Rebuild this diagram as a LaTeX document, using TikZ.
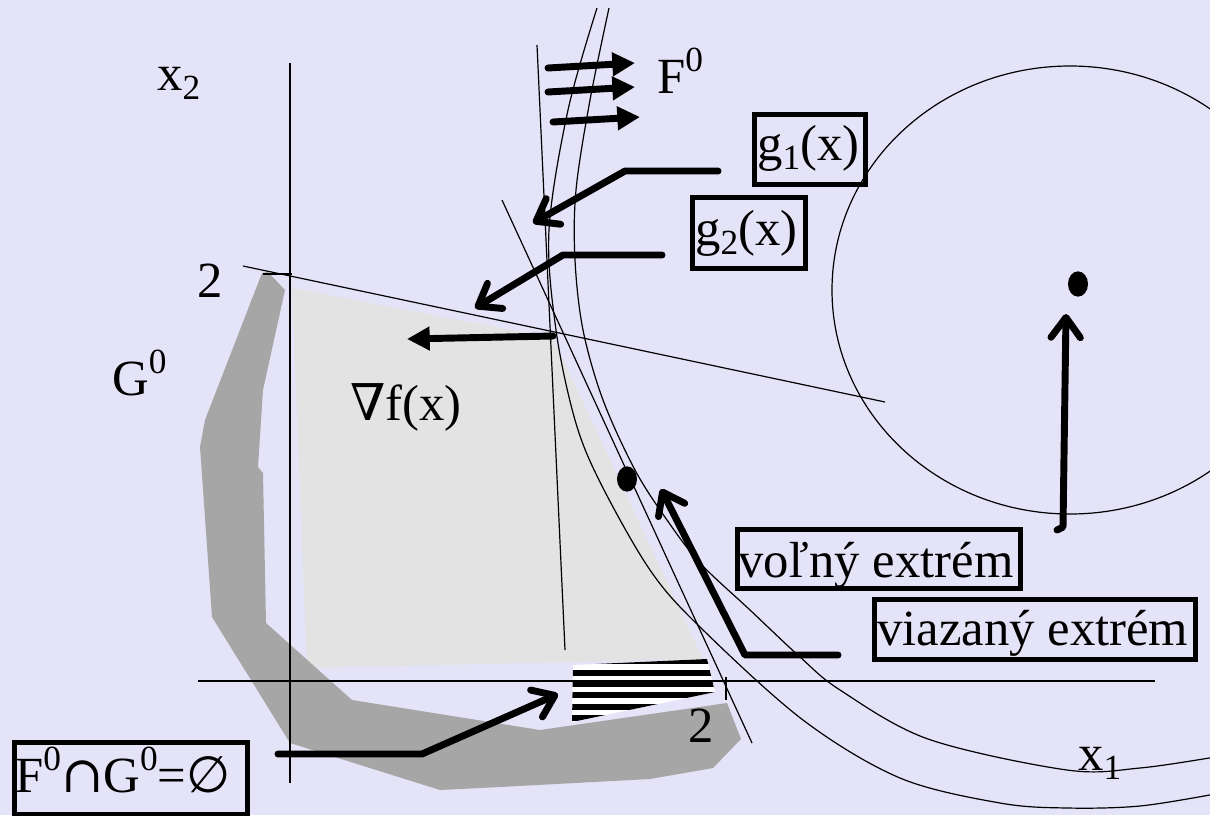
\documentclass[tikz,border=0pt]{standalone}
\usepackage{fontspec}
\setmainfont{Liberation Serif}
\newfontfamily\symfont{DejaVu Serif}
\newfontfamily\symsans{DejaVu Sans}
\usetikzlibrary{arrows.meta,shapes.geometric}
\definecolor{bg}{RGB}{228,227,248}
\definecolor{lightg}{RGB}{227,227,227}
\definecolor{darkg}{RGB}{166,166,166}
\newcommand{\mysup}[1]{\raisebox{16pt}{\fontsize{26.5}{26.5}\selectfont #1}}
\newcommand{\mysub}[1]{\raisebox{-7pt}{\fontsize{26.5}{26.5}\selectfont #1}}
\begin{document}
\begin{tikzpicture}[x=0.75pt,y=-0.75pt,
  thinl/.style={line width=0.9pt},
  thickarrow/.style={line width=5.2pt, line cap=round, line join=round},
  openhead/.style={thickarrow, -{Straight Barb[length=15pt,width=22pt,round]}},
  solidhead/.style={thickarrow, -{Triangle[length=17pt,width=17pt]}},
  lbl/.style={inner sep=0pt, anchor=base west, font=\fontsize{38}{40}\selectfont},
  lblbox/.style={draw, line width=3.5pt, inner sep=0pt, anchor=north west},
  dot/.style={ellipse, fill, inner sep=0pt, minimum width=15pt, minimum height=19pt}
]
\fill[bg] (0,0) rectangle (1210,815);
\useasboundingbox (0,0) rectangle (1210,815);
\begin{scope}
\clip (0,0) rectangle (1210,815);
% feasible region
\fill[lightg] (292,288) -- (553,338) -- (703,659) -- (307,668) -- cycle;
% G0 band
\fill[darkg] (262,273) -- (268,272) -- (285,290) -- (263,390) -- (258,467) -- (263,473) -- (266,623)
  -- (352,700) -- (540,730) -- (727,703) -- (741,739) -- (713,768) -- (650,779) -- (500,787)
  -- (440,790) -- (290,743) -- (212,617) -- (200,447) -- (205,420) -- cycle;
% hatched region
\begin{scope}
\clip (573,665) -- (707,659) -- (715,692) -- (572,722) -- cycle;
\fill[white] (560,650) rectangle (720,730);
\foreach \k in {0,...,5} \draw[line width=4.5pt] (560,661.3+11.3*\k) -- (720,661.3+11.3*\k);
\end{scope}
% axes and lines
\draw[thinl] (290,63) -- (290,783);
\draw[thinl] (198,681) -- (1155,681);
\draw[thinl] (726,677) -- (726,700);
\draw[thinl] (263,274) -- (292,274);
\draw[thinl] (243,266) -- (885,402);
\draw[thinl] (537,45) -- (565,650);
\draw[thinl] (502,200) -- (752,743);
% level curves
\draw[thinl] plot[smooth, tension=0.55] coordinates {(597,8) (568,110) (549,230) (556,330) (575,420) (600,482) (650,570) (700,627) (803,720) (900,778) (1000,803) (1067,808) (1140,806) (1215,794)};
\draw[thinl] plot[smooth, tension=0.55] coordinates {(609,8) (590,100) (576,190) (575,260) (583,330) (603,400) (635,470) (667,520) (700,563) (750,610) (800,657) (840,690) (928,739) (1067,770) (1140,768) (1215,757)};
\draw[thinl] (1070,290) ellipse [x radius=178.5pt, y radius=168pt];
\end{scope}
% extrema
\node[dot] (vdot) at (627,479) {};
\node[dot] (fdot) at (1078,284) {};
% coordinates for connectors
\coordinate (fa1) at (548,68); \coordinate (fb1) at (635,63);
\coordinate (fa2) at (548,92); \coordinate (fb2) at (635,87);
\coordinate (fa3) at (553,122); \coordinate (fb3) at (640,117);
\coordinate (g1s) at (718,171); \coordinate (g1k) at (625,171); \coordinate (g1t) at (533,223);
\coordinate (g2s) at (662,255); \coordinate (g2k) at (563,255); \coordinate (g2t) at (475,308);
\coordinate (nfs) at (553,336); \coordinate (nft) at (407,339);
\coordinate (vzs) at (838,655); \coordinate (vzk) at (745,655); \coordinate (vzt) at (661,489);
\coordinate (vls) at (1057,530); \coordinate (vlk) at (1063,527); \coordinate (vlt) at (1066,314);
\coordinate (fgs) at (278,754); \coordinate (fgk) at (422,754); \coordinate (fgt) at (558,694);
% arrows
\draw[solidhead] (fa1) -- (fb1);
\draw[solidhead] (fa2) -- (fb2);
\draw[solidhead] (fa3) -- (fb3);
\draw[solidhead] (nfs) -- (nft);
\draw[openhead] (g1s) -- (g1k) -- (g1t);
\draw[openhead] (g2s) -- (g2k) -- (g2t);
\draw[openhead] (vzs) -- (vzk) -- (vzt);
\draw[openhead] (vls) -- (vlk) -- (vlt);
\draw[openhead] (fgs) -- (fgk) -- (fgt);
% boxes
\node[lblbox, minimum width=83.25pt, minimum height=52.5pt] (g1box) at (752,112) {};
\node[lblbox, minimum width=84.75pt, minimum height=53.25pt] (g2box) at (690,195) {};
\node[lblbox, minimum width=212.25pt, minimum height=44.25pt] (vlbox) at (735,527) {};
\node[lblbox, minimum width=240.75pt, minimum height=45pt] (vzbox) at (872,597) {};
\node[lblbox, minimum width=174.75pt, minimum height=54pt] (fgbox) at (12,740) {};
% texts
\node[lbl] (x2) at (157,90) {x\mysub{2}};
\node[lbl] (F0) at (657,93) {F\mysup{0}};
\node[lbl] (g1) at (757,160) {g\mysub{1}(x)};
\node[lbl] (g2) at (695,245) {g\mysub{2}(x)};
\node[lbl] (two2) at (197,297) {2};
\node[lbl] (G0) at (112,395) {G\mysup{0}};
\node[lbl] (nabla) at (350,420) {{\symfont ∇}f(x)};
\node[lbl] (vl) at (738,577) {voľný extrém};
\node[lbl] (vz) at (877,645) {viazaný extrém};
\node[lbl] (two1) at (688,742) {2};
\node[lbl] (x1) at (1078,770) {x\mysub{1}};
\node[lbl] (fg) at (15,792) {F\mysup{0}{\symfont ∩}G\mysup{0}={\symsans ∅}};
\end{tikzpicture}
\end{document}
